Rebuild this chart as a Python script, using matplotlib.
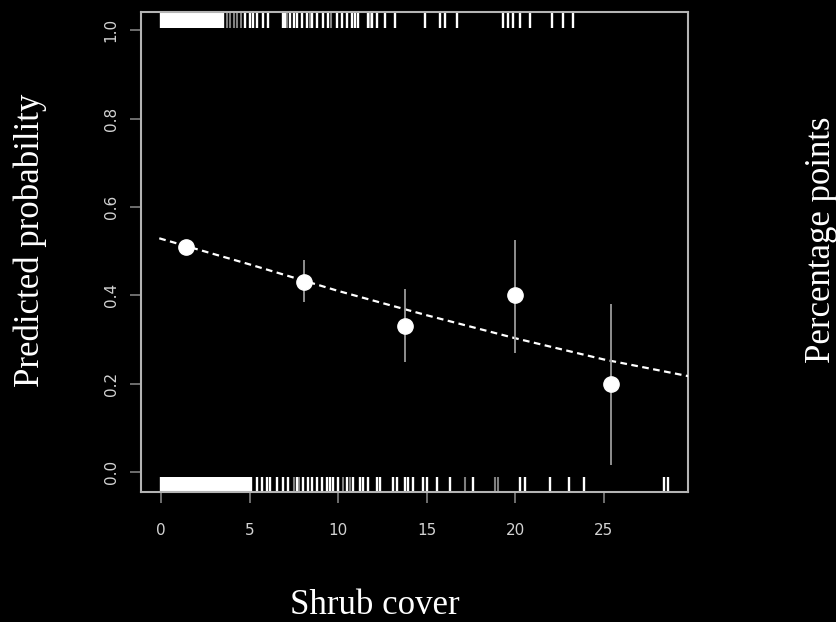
import matplotlib
matplotlib.use("Agg")
import matplotlib.pyplot as plt
import matplotlib.transforms as mtransforms

# binned means (white dots) with intervals
bin_x = [1.4, 8.1, 13.8, 20.0, 25.4]
bin_y = [0.51, 0.43, 0.33, 0.40, 0.20]
bin_lo = [0.50, 0.385, 0.25, 0.27, 0.016]
bin_hi = [0.52, 0.48, 0.415, 0.525, 0.38]

# fitted curve
fit_x = [-0.1, 5, 10, 15, 20, 25, 29.8]
fit_y = [0.529, 0.470, 0.410, 0.355, 0.303, 0.255, 0.217]

# rug: observations with outcome 1 (top) and 0 (bottom)
top_rug = [0.0, 0.1, 0.2, 0.3, 0.4, 0.5, 0.6, 0.7, 0.8, 0.9, 1.0, 1.1, 1.2,
           1.3, 1.4, 1.5, 1.6, 1.7, 1.8, 1.9, 2.0, 2.1, 2.2, 2.3, 2.4, 2.5,
           2.6, 2.7, 2.8, 2.9, 3.0, 3.1, 3.2, 3.3, 3.4, 3.48, 4.75, 5.03,
           5.2, 5.4, 5.78, 6.06, 6.9, 7.0, 7.29, 7.5, 7.66, 7.95, 8.23, 8.51,
           8.8, 9.17, 9.45, 9.92, 10.2, 10.49, 10.77, 10.96, 11.15, 11.71,
           11.9, 12.19, 12.66, 13.22, 14.92, 15.76, 16.05, 16.7, 19.34, 19.6,
           19.9, 20.28, 20.85, 22.07, 22.73, 23.3]
top_rug_faint = [3.7, 3.9, 4.1, 4.3, 4.5, 7.1, 8.4, 9.6, 11.8]
bottom_rug = [0.0, 0.1, 0.2, 0.3, 0.4, 0.5, 0.6, 0.7, 0.8, 0.9, 1.0, 1.1,
              1.2, 1.3, 1.4, 1.5, 1.6, 1.7, 1.8, 1.9, 2.0, 2.1, 2.2, 2.3, 2.4,
              2.5, 2.6, 2.7, 2.8, 2.9, 3.0, 3.1, 3.2, 3.3, 3.4, 3.5, 3.6, 3.7,
              3.8, 3.9, 4.0, 4.1, 4.2, 4.3, 4.4, 4.5, 4.6, 4.7, 4.8, 4.9, 5.0,
              5.1, 5.4, 5.69, 5.97, 6.16, 6.53, 6.91, 7.19, 7.66, 8.04, 8.32,
              8.51, 8.8, 9.08, 9.36, 9.55, 9.74, 10.02, 10.49, 10.86, 11.24,
              11.43, 11.71, 12.19, 12.37, 13.12, 13.31, 13.79, 13.97, 14.25,
              14.82, 15.01, 15.58, 16.33, 17.64, 20.28, 20.56, 21.98, 23.07,
              23.92, 28.42, 28.66]
bottom_rug_faint = [7.5, 7.8, 10.3, 10.7, 17.18, 18.87, 19.06]

xticks = [0, 5, 10, 15, 20, 25]
yticks = [0.0, 0.2, 0.4, 0.6, 0.8, 1.0]
ytick_labels = ["0.0", "0.2", "0.4", "0.6", "0.8", "1.0"]

GRAY = "#b4b4b4"
SERIF = ["Liberation Serif", "DejaVu Serif"]

fig = plt.figure(figsize=(8.37, 6.22), dpi=100, facecolor="black")
ax = fig.add_axes([0.1685, 0.209, 0.6535, 0.7717], facecolor="black")
ax.set_xlim(-1.13, 29.77)
ax.set_ylim(-0.045, 1.041)

# rugs, drawn from the box edge inwards
trans = mtransforms.blended_transform_factory(ax.transData, ax.transAxes)
ax.vlines(top_rug, 0.967, 1.0, transform=trans, color="white", lw=1.7)
ax.vlines(top_rug_faint, 0.967, 1.0, transform=trans, color="white", lw=1.5, alpha=0.5)
ax.vlines(bottom_rug, 0.0, 0.031, transform=trans, color="white", lw=1.7)
ax.vlines(bottom_rug_faint, 0.0, 0.031, transform=trans, color="white", lw=1.5, alpha=0.5)

# fitted curve
ax.plot(fit_x, fit_y, color="white", lw=1.6, ls=(0, (3, 2)), zorder=3)

# intervals and binned points
ax.vlines(bin_x, bin_lo, bin_hi, color="#9a9a9a", lw=1.3, zorder=4)
ax.plot(bin_x, bin_y, "o", color="white", ms=11, mec="white", zorder=5)

for s in ax.spines.values():
    s.set_color(GRAY)
    s.set_linewidth(1.5)

ax.set_xticks(xticks)
ax.set_xticklabels([str(t) for t in xticks])
ax.set_yticks(yticks)
ax.set_yticklabels(ytick_labels, rotation=90, va="center")
ax.tick_params(axis="x", colors="#777777", length=8, width=1.3, pad=14,
               labelsize=11, labelcolor="#d2d2d2")
ax.tick_params(axis="y", colors="#777777", length=8, width=1.3, pad=8,
               labelsize=11, labelcolor="#d2d2d2")

fig.text(0.036, 0.614, "Predicted probability", rotation=90, ha="center",
         va="center", color="white", fontsize=25, family=SERIF)
fig.text(0.448, 0.027, "Shrub cover", ha="center", va="center",
         color="white", fontsize=25, family=SERIF)
fig.text(0.981, 0.614, "Percentage points", rotation=90, ha="center",
         va="center", color="white", fontsize=25, family=SERIF)

fig.savefig("out.png", dpi=100, facecolor="black")
